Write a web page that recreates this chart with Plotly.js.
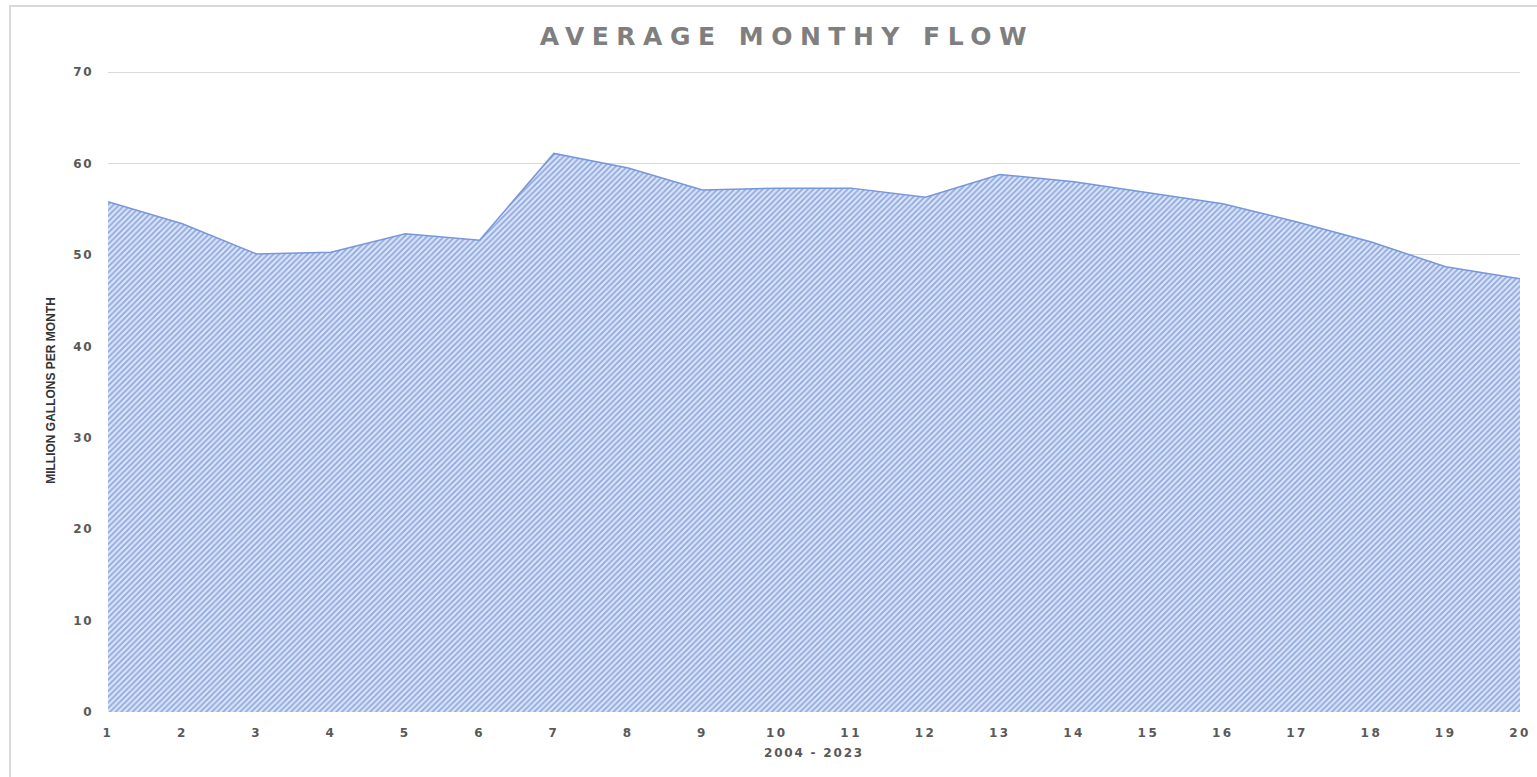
<!DOCTYPE html>
<html>
<head>
<meta charset="utf-8">
<script src="https://cdn.plot.ly/plotly-3.0.1.min.js"></script>
<style>
html,body{margin:0;padding:0;background:#fff;}
#chart{width:1537px;height:777px;}
</style>
</head>
<body>
<div id="chart"></div>
<script>
var months = [1,2,3,4,5,6,7,8,9,10,11,12,13,14,15,16,17,18,19,20];
var flow = [55.8,53.4,50.1,50.3,52.3,51.6,61.1,59.5,57.1,57.3,57.3,56.3,58.8,58.0,56.8,55.6,53.6,51.4,48.7,47.4];
var titleText = "AVERAGE MONTHY FLOW";
var xTitle = "2004 - 2023";
var yTitle = "MILLION GALLONS PER MONTH";
var yTicks = [0,10,20,30,40,50,60,70];

var trace = {
  x: months,
  y: flow,
  type: 'scatter',
  mode: 'lines',
  fill: 'tozeroy',
  line: {color: '#7896da', width: 1.5},
  fillcolor: '#bccdee',
  fillpattern: {shape: '/', fgcolor: '#8ea8e2', bgcolor: '#dbe4f6', size: 4, solidity: 0.45},
  hoverinfo: 'x+y'
};

var tickFont = {family: 'DejaVu Sans, sans-serif', size: 12, color: '#595959'};

var layout = {
  width: 1537,
  height: 777,
  margin: {l: 108, r: 17, t: 69, b: 65},
  paper_bgcolor: '#ffffff',
  plot_bgcolor: '#ffffff',
  showlegend: false,
  title: {
    text: '<b>' + titleText + '</b>',
    font: {family: 'DejaVu Sans, sans-serif', size: 25, color: '#7f7f7f'},
    x: 0.512, xanchor: 'center',
    y: 0.953, yanchor: 'middle'
  },
  xaxis: {
    range: [1, 20],
    tickvals: months,
    ticktext: months.map(function(m){return '<b>' + m + '</b>';}),
    showgrid: false,
    zeroline: false,
    showline: false,
    ticks: '',
    tickfont: tickFont,
    ticklabelstandoff: 12,
    title: {text: '<b>' + xTitle + '</b>', font: {family: 'DejaVu Sans, sans-serif', size: 12, color: '#595959'}, standoff: 9}
  },
  yaxis: {
    range: [0, 70.33],
    tickvals: yTicks,
    ticktext: yTicks.map(function(v){return '<b>' + v + '</b>';}),
    showgrid: true,
    gridcolor: '#d9d9d9',
    gridwidth: 1,
    zeroline: false,
    showline: false,
    ticks: '',
    tickfont: tickFont,
    ticklabelstandoff: 14,
    title: {text: '<b>' + yTitle + '</b>', font: {family: 'Liberation Sans Narrow, Arial Narrow, sans-serif', size: 12, color: '#333333'}, standoff: 18}
  },
  shapes: [{
    type: 'rect', xref: 'paper', yref: 'paper',
    x0: -0.0694, x1: 1.05, y0: -0.2, y1: 1.098,
    line: {color: '#d9d9d9', width: 2},
    fillcolor: 'rgba(0,0,0,0)',
    layer: 'below'
  }]
};

Plotly.newPlot('chart', [trace], layout, {displayModeBar: false, staticPlot: true}).then(function(gd){
  var t = gd.querySelector('.gtitle');
  if (t) t.setAttribute('letter-spacing', '7.5px');
  gd.querySelectorAll('.xtick text').forEach(function(e){ e.setAttribute('letter-spacing','2.5px'); });
  gd.querySelectorAll('.ytick text').forEach(function(e){ e.setAttribute('letter-spacing','1.5px'); });
  var xt = gd.querySelector('.xtitle');
  if (xt) xt.setAttribute('letter-spacing','1.8px');
});
</script>
</body>
</html>
